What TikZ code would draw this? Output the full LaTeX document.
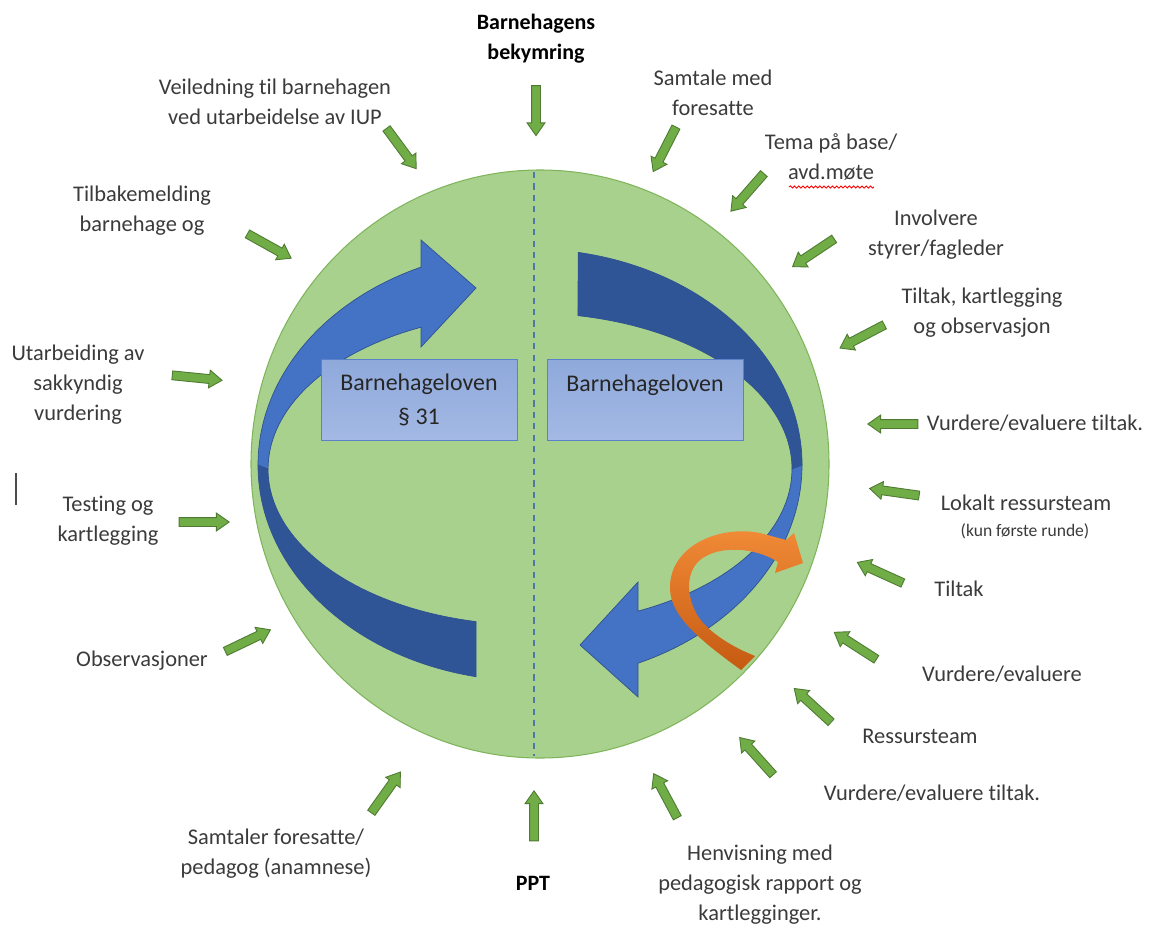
\documentclass[tikz,border=0pt]{standalone}
\usepackage{fontspec}
\setmainfont{Carlito}[Ligatures=NoCommon]
\usetikzlibrary{shapes.arrows,decorations.pathmorphing}
\definecolor{sirkel}{HTML}{A9D18E}
\definecolor{sirkelkant}{HTML}{7FB55A}
\definecolor{strek}{HTML}{4E79A7}
\definecolor{blalys}{HTML}{4472C4}
\definecolor{blamork}{HTML}{2F5597}
\definecolor{blakant}{HTML}{2F528F}
\definecolor{boks1}{HTML}{8EA9DB}
\definecolor{boks2}{HTML}{A4B9E4}
\definecolor{bokskant}{HTML}{5B82C9}
\definecolor{oransje1}{HTML}{F28C38}
\definecolor{oransje2}{HTML}{C55A11}
\definecolor{pilgronn}{HTML}{70AD47}
\definecolor{pilkant}{HTML}{4E7A31}
\definecolor{tekst}{HTML}{3B3B3B}
\begin{document}
\begin{tikzpicture}[x=0.02cm,y=0.02cm,
  lbl/.style={align=center,text=tekst,inner sep=0pt,font=\fontsize{12.75}{17}\selectfont},
  fet/.style={lbl,text=black,font=\fontsize{12.5}{17}\selectfont\bfseries},
  pil/.style={single arrow,draw=pilkant,fill=pilgronn,line width=0.5pt,minimum height=1cm,
    inner xsep=0pt,inner ysep=0.08cm,single arrow head extend=0.09cm,single arrow tip angle=70},
  boks/.style={draw=bokskant,top color=boks1,bottom color=boks2,minimum width=3.92cm,minimum height=1.62cm,
    align=center,text=black!85,font=\fontsize{13.6}{19}\selectfont}]
  \fill[white] (0,0) rectangle (1152,-922);
  \draw[fill=sirkel,draw=sirkelkant,line width=0.6pt] (540,-464) ellipse [x radius=289,y radius=294];
  \draw[strek,line width=1.1pt,dash pattern=on 3.5pt off 3pt] (534,-172) -- (534,-756);
  % venstre pil
  \filldraw[fill=blamork,draw=blakant,line width=0.4pt] (258,-465)
    arc[start angle=180,end angle=258.55,x radius=272,y radius=216]
    -- (476,-621.6) arc[start angle=258.1,end angle=180,x radius=262,y radius=156] -- cycle;
  \filldraw[fill=blalys,draw=blakant,line width=0.4pt] (421,-267) -- (421,-240) -- (476,-288) -- (421,-347)
    -- (421,-327.2) arc[start angle=114.6,end angle=180,x radius=262,y radius=156]
    -- (258,-465) arc[start angle=180,end angle=113.6,x radius=272,y radius=216] -- cycle;
  % hoyre pil
  \filldraw[fill=blamork,draw=blakant,line width=0.4pt] (578.2,-252.4)
    arc[start angle=79.8,end angle=0,x radius=272,y radius=216]
    -- (792,-469) arc[start angle=0,end angle=79.45,x radius=262,y radius=156] -- cycle;
  \filldraw[fill=blalys,draw=blakant,line width=0.4pt] (802,-465)
    arc[start angle=0,end angle=-66.6,x radius=272,y radius=216]
    -- (638,-697) -- (580,-645) -- (638,-582) -- (638,-611.1)
    arc[start angle=-65.65,end angle=0,x radius=262,y radius=156] -- cycle;
  \node[boks] (lov31) at (419,-400) {Barnehageloven\\§ 31};
  \node[boks] (lov) at (645,-400) {Barnehageloven\\\mbox{}};
  \shade[top color=oransje1,bottom color=oransje2] (741,-670)
    .. controls (700,-640) and (668,-615) .. (670,-585)
    .. controls (672,-545) and (720,-525) .. (760,-533)
    -- (786,-540) -- (794,-533) -- (803,-563) -- (775,-573) -- (778,-562)
    .. controls (755,-547) and (718,-545) .. (700,-560)
    .. controls (682,-575) and (688,-608) .. (705,-625)
    .. controls (720,-640) and (740,-650) .. (755,-656) -- cycle;
  \node[pil,rotate=-90] (p1) at (536,-107.5) {};
  \node[pil,rotate=-53.6] (p2) at (399.5,-146) {};
  \node[pil,rotate=-117.1] (p3) at (666,-146.5) {};
  \node[pil,rotate=-131.2] (p4) at (749.5,-190) {};
  \node[pil,rotate=-146.3] (p5) at (816,-251) {};
  \node[pil,rotate=-152.4] (p6) at (865,-335) {};
  \node[pil,rotate=180] (p7) at (896,-424) {};
  \node[pil,rotate=171.9] (p8) at (897.5,-492.5) {};
  \node[pil,rotate=155.6] (p9) at (883,-574) {};
  \node[pil,rotate=147.3] (p10) at (858,-647.5) {};
  \node[pil,rotate=137.5] (p11) at (815,-707.5) {};
  \node[pil,rotate=131.9] (p12) at (758.5,-758.5) {};
  \node[pil,rotate=118.1] (p13) at (667,-798.5) {};
  \node[pil,rotate=90] (p14) at (534,-819) {};
  \node[pil,rotate=54.5] (p15) at (384,-795) {};
  \node[pil,rotate=25.6] (p16) at (245,-642) {};
  \node[pil,rotate=0] (p17) at (201,-522) {};
  \node[pil,rotate=-5.7] (p18) at (194,-377.5) {};
  \node[pil,rotate=-29.1] (p19) at (266.5,-244.5) {};
  \node[fet] (bekym) at (536,-39) {Barnehagens\\bekymring};
  \node[lbl] (iup) at (275,-102) {Veiledning til barnehagen\\ved utarbeidelse av IUP};
  \node[lbl] (tilbake) at (142,-211) {Tilbakemelding\\barnehage og};
  \node[lbl] (sakk) at (78,-385) {Utarbeiding av\\sakkyndig\\vurdering};
  \node[lbl] (testing) at (108,-521) {Testing og\\kartlegging};
  \node[lbl] (obs) at (142,-661) {Observasjoner};
  \node[lbl] (anam) at (276,-854) {Samtaler foresatte/\\pedagog (anamnese)};
  \node[fet] (ppt) at (533,-883) {PPT};
  \node[lbl] (henv) at (760,-885) {Henvisning med\\pedagogisk rapport og\\kartlegginger.};
  \node[lbl] (vurd3) at (932,-793) {Vurdere/evaluere tiltak.};
  \node[lbl] (ress) at (920,-736) {Ressursteam};
  \node[lbl] (vurd2) at (1002,-674) {Vurdere/evaluere};
  \node[lbl] (tiltak) at (959,-589) {Tiltak};
  \node[lbl] (lokalt) at (1026,-503) {Lokalt ressursteam};
  \node[lbl,font=\fontsize{10}{12}\selectfont] (runde) at (1025,-531) {(kun første runde)};
  \node[lbl] (vurd1) at (1035,-423) {Vurdere/evaluere tiltak.};
  \node[lbl] (kartl) at (982,-313) {Tiltak, kartlegging\\og observasjon};
  \node[lbl] (involv) at (936,-235) {Involvere\\styrer/fagleder};
  \node[lbl] (tema) at (831,-157) {Tema på base/\\avd.møte};
  \node[lbl] (samtale) at (713,-93) {Samtale med\\foresatte};
  \draw[red,line width=0.5pt,decorate,decoration={snake,amplitude=0.6pt,segment length=2.4pt}] (789,-187) -- (874,-187);
  \draw[black!70,line width=1pt] (16,-473) -- (16,-505);
\end{tikzpicture}
\end{document}
